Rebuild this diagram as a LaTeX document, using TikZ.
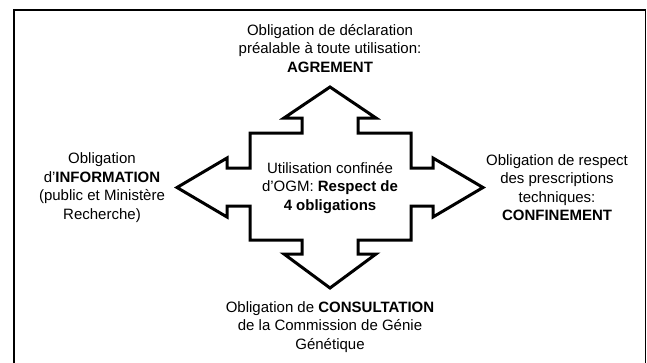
\documentclass[tikz,border=0pt]{standalone}
\usepackage{fontspec}
\setmainfont{Liberation Sans}
\begin{document}
\begin{tikzpicture}[x=1pt,y=-1pt,
  label/.style={align=center,inner sep=0pt,font=\fontsize{15}{18.5}\selectfont},
  crossarrow/.style={draw=black,line width=3pt,line join=miter,fill=white},
  frame/.style={draw=black,line width=1.3pt}]
\useasboundingbox (0,0) rectangle (647,362);
\clip (0,0) rectangle (647,362);
\draw[frame] (14,10) -- (645.5,10) -- (645.5,380) -- (14,380) -- cycle;
\draw[crossarrow]
  (330,87) -- (376,118) -- (358,118) -- (358,133) -- (411,133) -- (411,168)
  -- (433,168) -- (433,158) -- (483,187.5) -- (433,217) -- (433,206)
  -- (411,206) -- (411,240) -- (358,240) -- (358,254) -- (376,254)
  -- (330,288) -- (284,254) -- (302,254) -- (302,240) -- (250,240)
  -- (250,206) -- (227,206) -- (227,217) -- (177,187.5) -- (227,158)
  -- (227,168) -- (250,168) -- (250,133) -- (302,133) -- (302,118)
  -- (284,118) -- cycle;
\node[label] (centre) at (330,188) {Utilisation confinée\\d’OGM: \textbf{Respect de}\\\textbf{4 obligations}};
\node[label] (agrement) at (330,48.5) {Obligation de déclaration\\préalable à toute utilisation:\\\textbf{AGREMENT}};
\node[label] (information) at (102,187.5) {Obligation\\d’\textbf{INFORMATION}\\(public et Ministère\\Recherche)};
\node[label] (confinement) at (557,187.5) {Obligation de respect\\des prescriptions\\techniques:\\\textbf{CONFINEMENT}};
\node[label] (consultation) at (330,327) {Obligation de \textbf{CONSULTATION}\\de la Commission de Génie\\Génétique};
\end{tikzpicture}
\end{document}
